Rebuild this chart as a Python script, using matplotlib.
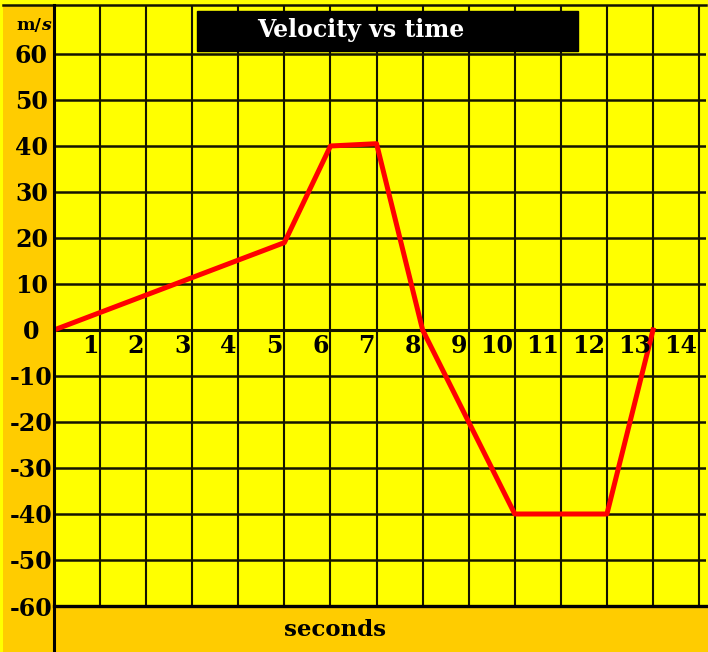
import matplotlib
matplotlib.use('Agg')
import matplotlib.pyplot as plt
from matplotlib.patches import Rectangle
from matplotlib.lines import Line2D

# data
t = [0, 5, 6, 7, 8, 10, 12, 13]
v = [0, 19, 40, 40.5, 0, -40, -40, 0]
x_ticks = list(range(1, 15))
y_ticks = list(range(-60, 70, 10))

W, H = 708, 652
YELLOW = '#ffff00'
ORANGE = '#ffcc00'
GRID = '#141400'
FONT = 'DejaVu Serif'

def fx(x):
    return x / W

def fy(y):
    return 1 - y / H

fig = plt.figure(figsize=(W / 100, H / 100), dpi=100, facecolor=YELLOW)

# plot area in pixels: x 54..706, y 5..606
ax = fig.add_axes([fx(54), fy(606), fx(706) - fx(54), fy(5) - fy(606)])
ax.set_facecolor(YELLOW)
ax.set_xlim(0, 14.15)
ax.set_ylim(-60, 70.65)
for s in ax.spines.values():
    s.set_visible(False)
ax.set_xticks([])
ax.set_yticks([])

# grid
for x in range(0, 15):
    ax.axvline(x, color=GRID, lw=1.5, zorder=1)
for y in y_ticks:
    ax.axhline(y, color=GRID, lw=1.8, zorder=1)
ax.axhline(0, color=GRID, lw=2.2, zorder=1)

ax.plot(t, v, color='#ff0000', lw=3.6, zorder=3, solid_joinstyle='round')

# tick labels
for x in x_ticks:
    ax.text(x - 0.04, -3.4, str(x), ha='right', va='center', family=FONT,
            fontweight='bold', fontsize=17, color='black', zorder=4)
for y in y_ticks:
    ax.text(-0.49, y, str(y), ha='center', va='center_baseline', family=FONT,
            fontweight='bold', fontsize=17, color='black', clip_on=False)

# orange side panels
fig.add_artist(Rectangle((fx(3), 0), fx(54) - fx(3), fy(5), transform=fig.transFigure,
                         facecolor=ORANGE, edgecolor='none', zorder=-1))
fig.add_artist(Rectangle((fx(54), 0), 1 - fx(54), fy(606), transform=fig.transFigure,
                         facecolor=ORANGE, edgecolor='none', zorder=-1))

# frame lines
fig.add_artist(Line2D([fx(3), fx(706)], [fy(5), fy(5)], transform=fig.transFigure,
                      color=GRID, lw=1.8, zorder=2))
fig.add_artist(Line2D([fx(54), fx(54)], [0, fy(5)], transform=fig.transFigure,
                      color='black', lw=2.2, zorder=2))
fig.add_artist(Line2D([fx(54), fx(706)], [fy(606), fy(606)], transform=fig.transFigure,
                      color='black', lw=2.4, zorder=2))

# title box
fig.add_artist(Rectangle((fx(197), fy(51)), fx(578) - fx(197), fy(11) - fy(51),
                         transform=fig.transFigure, facecolor='black', edgecolor='black',
                         zorder=5))
fig.text(fx(361), fy(30), 'Velocity vs time', ha='center', va='center', family=FONT,
         fontweight='bold', fontsize=17, color='white', zorder=6)

# units and x label
fig.text(fx(41), fy(30), 'm/', ha='right', va='baseline', family=FONT,
         fontweight='bold', fontsize=12.5, color='black')
fig.text(fx(41), fy(30), 's', ha='left', va='baseline', family=FONT,
         fontweight='bold', style='italic', fontsize=12.5, color='black')
fig.text(fx(335), fy(630), 'seconds', ha='center', va='center', family=FONT,
         fontweight='bold', fontsize=16.5, color='black')

fig.savefig('out.png', dpi=100, facecolor=YELLOW)
